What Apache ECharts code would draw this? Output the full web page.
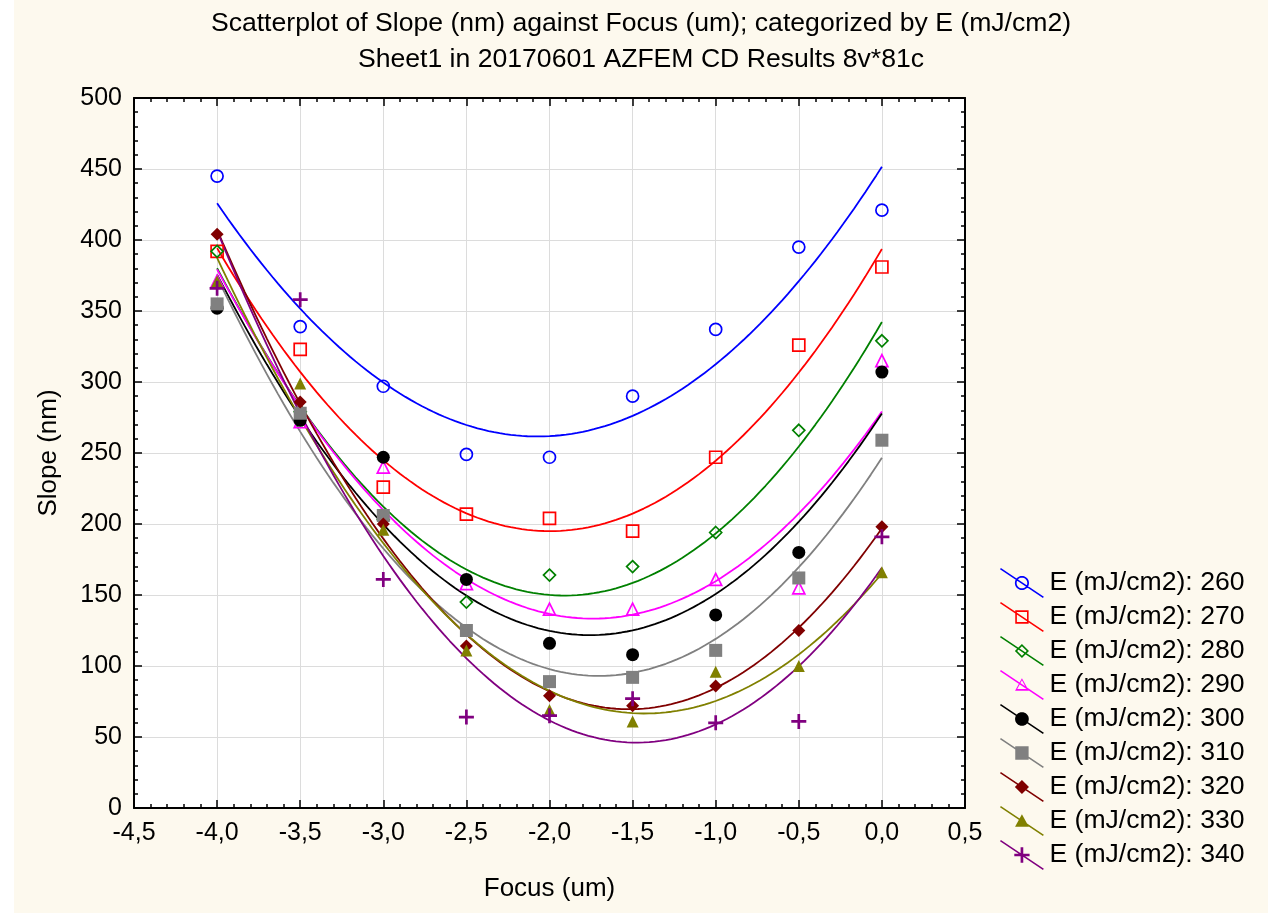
<!DOCTYPE html>
<html><head><meta charset="utf-8">
<script src="https://cdn.jsdelivr.net/npm/echarts@6/dist/echarts.min.js"></script>
<style>
html,body{margin:0;padding:0;background:#fff;}
#c{position:absolute;left:14px;top:0;width:1254px;height:913px;background:#FDF9EE;}
</style>
</head><body><div id="c"></div>
<script>
// ---- data ----
const focus = [-4.0, -3.5, -3.0, -2.5, -2.0, -1.5, -1.0, -0.5, 0.0];
const energies = [260, 270, 280, 290, 300, 310, 320, 330, 340];
const e260 = [445, 339, 297, 249, 247, 290, 337, 395, 421];
const e270 = [392, 323, 226, 207, 204, 195, 247, 326, 381];
const e280 = [392, 279, 203, 145, 164, 170, 194, 266, 329];
const e290 = [371, 272, 240, 158, 140, 140, 161, 155, 315];
const e300 = [352, 273, 247, 161, 116, 108, 136, 180, 307];
const e310 = [355, 278, 206, 125, 89, 92, 111, 162, 259];
const e320 = [404, 286, 200, 114, 79, 72, 86, 125, 198];
const e330 = [371, 299, 196, 111, 69, 61, 96, 100, 166];
const e340 = [366, 358, 161, 64, 65, 77, 60, 61, 191];
const xTicks = [-4.5, 0.5, 0.5];   // min, max, interval
const yTicks = [0, 500, 50];
const title1 = 'Scatterplot of Slope (nm) against Focus (um); categorized by E (mJ/cm2)';
const title2 = 'Sheet1 in 20170601 AZFEM CD Results 8v*81c';
const seriesValues = [e260, e270, e280, e290, e300, e310, e320, e330, e340];

// ---- styles ----
const colors = ['#0000FF', '#FF0000', '#008000', '#FF00FF', '#000000', '#808080', '#800000', '#808000', '#800080'];
const shapes = ['ecircle', 'erect', 'ediamond', 'etriangle', 'circle', 'rect', 'diamond', 'triangle', 'plus'];
const FONT = '"Liberation Sans", Arial, sans-serif';

// quadratic least-squares fit (same as original chart's fitted curve)
function quadFit(xs, ys) {
  let n = xs.length, sx = 0, sx2 = 0, sx3 = 0, sx4 = 0, sy = 0, sxy = 0, sx2y = 0;
  for (let i = 0; i < n; i++) {
    const x = xs[i], y = ys[i];
    sx += x; sx2 += x * x; sx3 += x * x * x; sx4 += x * x * x * x;
    sy += y; sxy += x * y; sx2y += x * x * y;
  }
  const M = [[n, sx, sx2, sy], [sx, sx2, sx3, sxy], [sx2, sx3, sx4, sx2y]];
  for (let i = 0; i < 3; i++) {
    let p = i;
    for (let r = i + 1; r < 3; r++) if (Math.abs(M[r][i]) > Math.abs(M[p][i])) p = r;
    [M[i], M[p]] = [M[p], M[i]];
    for (let r = 0; r < 3; r++) if (r !== i) {
      const f = M[r][i] / M[i][i];
      for (let c = i; c < 4; c++) M[r][c] -= f * M[i][c];
    }
  }
  return [M[0][3] / M[0][0], M[1][3] / M[1][1], M[2][3] / M[2][2]];
}

// legend icon path builders (clockwise = filled, counter-clockwise = hole)
function poly(pts, rev) {
  const p = rev ? pts.slice().reverse() : pts;
  return 'M' + p.map(q => q[0].toFixed(2) + ' ' + q[1].toFixed(2)).join(' L') + ' Z ';
}
function circlePts(cx, cy, r) {
  const a = [];
  for (let i = 0; i < 32; i++) { const t = i / 32 * Math.PI * 2; a.push([cx + r * Math.cos(t), cy + r * Math.sin(t)]); }
  return a;
}
function rectPts(cx, cy, h) { return [[cx - h, cy - h], [cx + h, cy - h], [cx + h, cy + h], [cx - h, cy + h]]; }
function diamPts(cx, cy, h) { return [[cx, cy - h], [cx + h, cy], [cx, cy + h], [cx - h, cy]]; }
function triPts(cx, cy, h) { return [[cx, cy - h], [cx + h, cy + h * 0.85], [cx - h, cy + h * 0.85]]; }
function linePoly(x1, y1, x2, y2, w) {
  const dx = x2 - x1, dy = y2 - y1, L = Math.hypot(dx, dy);
  const nx = -dy / L * w / 2, ny = dx / L * w / 2;
  return poly([[x1 - nx, y1 - ny], [x2 - nx, y2 - ny], [x2 + nx, y2 + ny], [x1 + nx, y1 + ny]]);
}
function markerPath(shape, cx, cy) {
  switch (shape) {
    case 'ecircle': return poly(circlePts(cx, cy, 7.4)) + poly(circlePts(cx, cy, 5.6), true);
    case 'erect': return poly(rectPts(cx, cy, 7.0)) + poly(rectPts(cx, cy, 5.3), true);
    case 'ediamond': return poly(diamPts(cx, cy, 7.4)) + poly(diamPts(cx, cy, 5.0), true);
    case 'etriangle': return poly(triPts(cx, cy, 7.2)) + poly(triPts(cx, cy, 4.9), true);
    case 'circle': return poly(circlePts(cx, cy, 7.2));
    case 'rect': return poly(rectPts(cx, cy, 7.0));
    case 'diamond': return poly(diamPts(cx, cy, 7.4));
    case 'triangle': return poly(triPts(cx, cy, 7.2));
    case 'plus': return poly([[cx - 8, cy - 1.4], [cx + 8, cy - 1.4], [cx + 8, cy + 1.4], [cx - 8, cy + 1.4]]) +
                        poly([[cx - 1.4, cy - 8], [cx + 1.4, cy - 8], [cx + 1.4, cy + 8], [cx - 1.4, cy + 8]]);
  }
}
function legendIcon(shape) {
  return 'path://' + linePoly(0, 0, 45, 30, 1.7) + markerPath(shape, 22.5, 15);
}
const plusSymbol = 'path://M4.1 0 L5.9 0 L5.9 4.1 L10 4.1 L10 5.9 L5.9 5.9 L5.9 10 L4.1 10 L4.1 5.9 L0 5.9 L0 4.1 L4.1 4.1 Z';

function scatterStyle(shape, color) {
  const hollow = shape[0] === 'e';
  const base = hollow ? shape.slice(1) : shape;
  const sym = base === 'plus' ? plusSymbol : base;
  let size = 13;
  if (base === 'diamond') size = hollow ? 12 : 13;
  if (base === 'triangle') size = 12;
  if (base === 'plus') size = 15;
  if (base === 'rect') size = hollow ? 12 : 13;
  if (base === 'circle') size = hollow ? 12 : 13;
  return {
    symbol: sym, symbolSize: size,
    itemStyle: hollow ? { color: 'rgba(0,0,0,0)', borderColor: color, borderWidth: 1.7, opacity: 1 }
                      : { color: color, borderWidth: 0, opacity: 1 }
  };
}

const fmtX = v => v.toFixed(1).replace('.', ',');
const series = [];
const legendData = [];
energies.forEach((e, k) => {
  const name = 'E (mJ/cm2): ' + e;
  const vals = seriesValues[k];
  const c = quadFit(focus, vals);
  const x0 = focus[0], x1 = focus[focus.length - 1];
  const curve = [];
  for (let i = 0; i <= 120; i++) {
    const x = x0 + (x1 - x0) * i / 120;
    curve.push([x, c[0] + c[1] * x + c[2] * x * x]);
  }
  series.push({
    type: 'line', name: name, data: curve, showSymbol: false, symbol: 'none', smooth: false,
    lineStyle: { color: colors[k], width: 1.8 }, itemStyle: { color: colors[k] },
    z: 2, silent: true, emphasis: { disabled: true }
  });
  const st = scatterStyle(shapes[k], colors[k]);
  series.push(Object.assign({
    type: 'scatter', name: name, data: focus.map((x, i) => [x, vals[i]]),
    z: 3, silent: true, emphasis: { disabled: true }
  }, st));
  legendData.push({ name: name, icon: legendIcon(shapes[k]), itemStyle: { color: colors[k], borderWidth: 0, borderColor: colors[k], opacity: 1 } });
});

const axisLineStyle = { show: true, onZero: false, lineStyle: { color: '#000', width: 2 } };
const tickStyle = { show: true, inside: true, length: 8, lineStyle: { color: '#000', width: 1.5 } };
const minorStyle = { show: true, splitNumber: 5, length: 4, lineStyle: { color: '#000', width: 1.5 } };

const chart = echarts.init(document.getElementById('c'), null, { renderer: 'canvas' });
chart.setOption({
  animation: false,
  backgroundColor: '#FDF9EE',
  textStyle: { fontFamily: FONT },
  title: {
    text: title1 + '\n' + title2, left: 'center', top: 6, padding: 0,
    textStyle: { fontSize: 26.6, fontWeight: 'normal', color: '#000', lineHeight: 36, fontFamily: FONT }
  },
  grid: { left: 120, top: 98, width: 831, height: 710, show: true, backgroundColor: '#fff', borderWidth: 0, containLabel: false },
  legend: {
    data: legendData, orient: 'vertical', left: 986, top: 568, padding: 0,
    itemWidth: 45, itemHeight: 30, itemGap: 4, selectedMode: false,
    textStyle: { fontSize: 26.6, color: '#000', fontFamily: FONT }
  },
  xAxis: [{
    type: 'value', min: xTicks[0], max: xTicks[1], interval: xTicks[2], position: 'bottom',
    axisLine: axisLineStyle, axisTick: tickStyle, minorTick: minorStyle,
    splitLine: { show: true, lineStyle: { color: '#DCDCDC', width: 1 } },
    axisLabel: { fontSize: 25, color: '#000', margin: 13, formatter: fmtX, showMinLabel: true, showMaxLabel: true, fontFamily: FONT },
    name: 'Focus (um)', nameLocation: 'middle', nameGap: 68,
    nameTextStyle: { fontSize: 26, color: '#000', fontFamily: FONT }
  }, {
    type: 'value', min: xTicks[0], max: xTicks[1], interval: xTicks[2], position: 'top',
    axisLine: axisLineStyle, axisTick: tickStyle, minorTick: minorStyle,
    splitLine: { show: false }, axisLabel: { show: false }
  }],
  yAxis: [{
    type: 'value', min: yTicks[0], max: yTicks[1], interval: yTicks[2], position: 'left',
    axisLine: axisLineStyle, axisTick: tickStyle, minorTick: minorStyle,
    splitLine: { show: true, lineStyle: { color: '#DCDCDC', width: 1 } },
    axisLabel: { fontSize: 25, color: '#000', margin: 12, showMinLabel: true, showMaxLabel: true, fontFamily: FONT },
    name: 'Slope (nm)', nameLocation: 'middle', nameGap: 72, nameRotate: 90,
    nameTextStyle: { fontSize: 26, color: '#000', fontFamily: FONT }
  }, {
    type: 'value', min: yTicks[0], max: yTicks[1], interval: yTicks[2], position: 'right',
    axisLine: axisLineStyle, axisTick: tickStyle, minorTick: minorStyle,
    splitLine: { show: false }, axisLabel: { show: false }
  }],
  series: series
});
</script></body></html>
